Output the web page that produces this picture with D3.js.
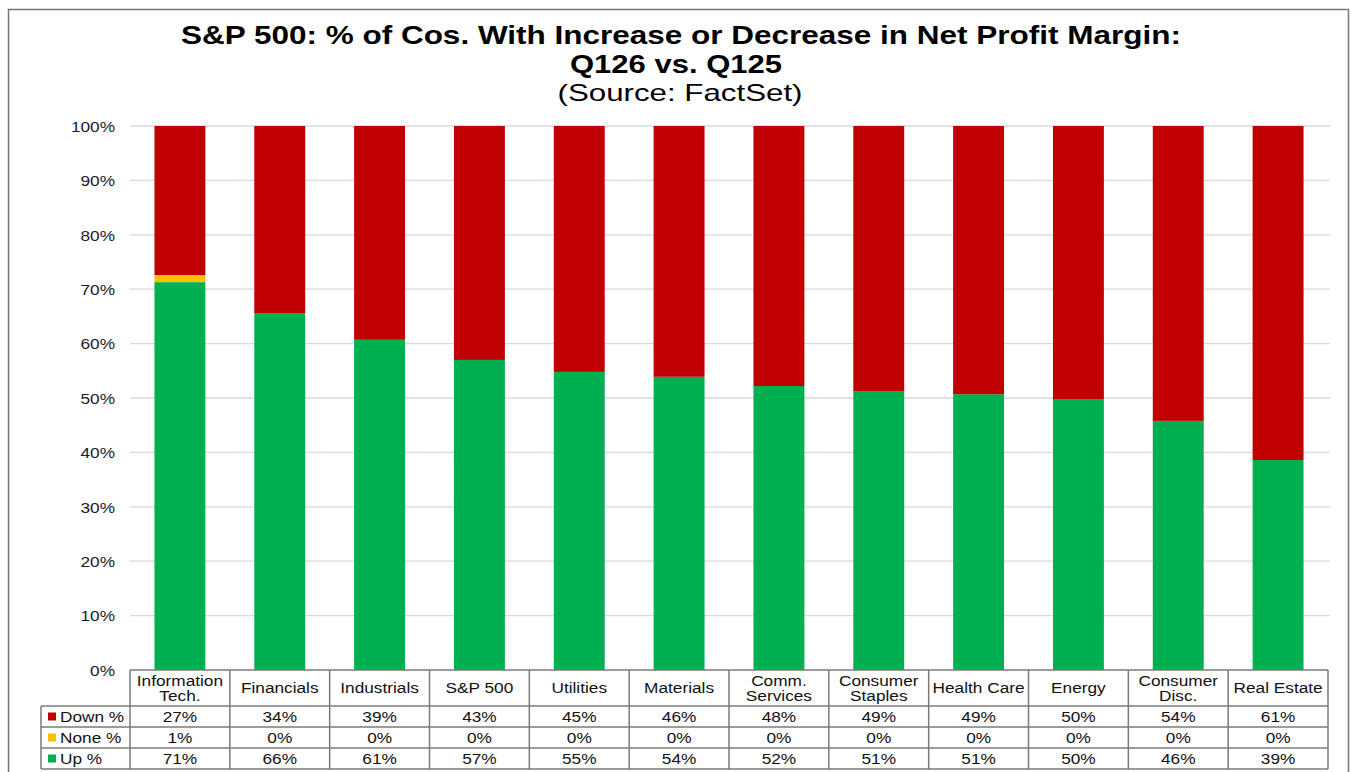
<!DOCTYPE html>
<html><head><meta charset="utf-8">
<script src="https://cdn.jsdelivr.net/npm/d3@7"></script>
<style>body{margin:0;background:#fff;} svg{display:block;font-family:"Liberation Sans",Arial,sans-serif;}</style>
</head><body>
<svg id="c" width="1351" height="772"></svg>
<script>
const categories = [["Information","Tech."],["Financials"],["Industrials"],["S&P 500"],["Utilities"],["Materials"],["Comm.","Services"],["Consumer","Staples"],["Health Care"],["Energy"],["Consumer","Disc."],["Real Estate"]];
const upPct   = [71.3, 65.6, 60.7, 57.0, 54.8, 53.9, 52.2, 51.3, 50.7, 49.8, 45.8, 38.6];
const nonePct = [1.3, 0, 0, 0, 0, 0, 0, 0, 0, 0, 0, 0];
const downPct = upPct.map((u,i)=>100-u-nonePct[i]);
const downLabels = ["27%","34%","39%","43%","45%","46%","48%","49%","49%","50%","54%","61%"];
const noneLabels = ["1%","0%","0%","0%","0%","0%","0%","0%","0%","0%","0%","0%"];
const upLabels   = ["71%","66%","61%","57%","55%","54%","52%","51%","51%","50%","46%","39%"];
const yTicks = [0,10,20,30,40,50,60,70,80,90,100];
const colors = {"Up %":"#00B050","None %":"#FFC000","Down %":"#C00000"};

const SX = 1.15; // horizontal stretch of small text
const svg = d3.select("#c");
svg.append("rect").attr("x",8.5).attr("y",9.5).attr("width",1340).attr("height",770).attr("fill","#fff").attr("stroke","#767676").attr("stroke-width",1.5);

function stext(g, px, py, str, anchor, size, fill){
  return g.append("text").attr("transform",`translate(${px},${py}) scale(${SX},1)`)
    .attr("text-anchor",anchor).attr("font-size",size).attr("fill",fill||"#111").text(str);
}

// titles
const titles = [
  {t:"S&P 500: % of Cos. With Increase or Decrease in Net Profit Margin:", cx:681, y:44, w:1000, b:true, s:25},
  {t:"Q126 vs. Q125", cx:676, y:73, w:212, b:true, s:25},
  {t:"(Source: FactSet)", cx:680, y:101, w:245, b:false, s:24}
];
titles.forEach(d=>{
  svg.append("text").attr("x",d.cx-d.w/2).attr("y",d.y).attr("textLength",d.w).attr("lengthAdjust","spacingAndGlyphs")
    .attr("font-weight",d.b?"bold":"normal").attr("font-size",d.s).attr("fill","#000").text(d.t);
});

const x0 = 130, x1 = 1328;
const x = d3.scaleBand().domain(d3.range(categories.length)).range([x0,x1]).paddingInner(0).paddingOuter(0);
const y = d3.scaleLinear().domain([0,100]).range([670,126]);

// grid
svg.append("g").selectAll("line").data(yTicks.filter(t=>t>0)).join("line")
  .attr("x1",x0).attr("x2",1330).attr("y1",d=>y(d)).attr("y2",d=>y(d))
  .attr("stroke","#d9d9d9").attr("stroke-width",1.3);

// y axis labels
const yAxis = d3.axisLeft(y).tickValues(yTicks).tickFormat(d=>d+"%").tickSize(0).tickPadding(0);
const ya = svg.append("g").attr("transform","translate(115,0)").call(yAxis);
ya.select(".domain").remove();
ya.selectAll(".tick text").attr("font-size",15).attr("fill","#1a1a2e").attr("font-family","Liberation Sans, Arial, sans-serif")
  .attr("dy","0.35em").attr("transform",`scale(${SX},1)`);

// stacked bars
const rows = categories.map((c,i)=>({i, "Up %":upPct[i], "None %":nonePct[i], "Down %":downPct[i]}));
const stack = d3.stack().keys(["Up %","None %","Down %"])(rows);
const bw = x.bandwidth()*0.51;
svg.append("g").selectAll("g").data(stack).join("g").attr("fill",s=>colors[s.key])
  .selectAll("rect").data(s=>s).join("rect")
  .attr("x",d=>x(d.data.i)+(x.bandwidth()-bw)/2).attr("width",bw)
  .attr("y",d=>y(d[1])).attr("height",d=>Math.max(0,y(d[0])-y(d[1])));

// data table
const tbl = svg.append("g");
const hdrTop = 670, hdrBot = 706, rowH = 21;
const lineColor = "#7a7a7a";
const tableRows = [["Down %",downLabels],["None %",noneLabels],["Up %",upLabels]];
categories.forEach((c,i)=>{
  const cx = x(i)+x.bandwidth()/2;
  if(c.length===1){ stext(tbl,cx,693,c[0],"middle",15); }
  else { stext(tbl,cx,686,c[0],"middle",15); stext(tbl,cx,701,c[1],"middle",15); }
});
tableRows.forEach((r,ri)=>{
  const top = hdrBot + ri*rowH;
  tbl.append("rect").attr("x",48).attr("y",top+rowH/2-4).attr("width",8).attr("height",8).attr("fill",colors[r[0]]);
  stext(tbl,60,top+rowH/2+5,r[0],"start",15);
  r[1].forEach((v,i)=>{ stext(tbl,x(i)+x.bandwidth()/2,top+rowH/2+5,v,"middle",15); });
});
const tableBot = hdrBot + 3*rowH;
const L = [];
L.push([x0,hdrTop,x1,hdrTop]);
for(let k=0;k<=3;k++) L.push([41,hdrBot+k*rowH,x1,hdrBot+k*rowH]);
L.push([41,hdrBot,41,tableBot]);
for(let i=0;i<=categories.length;i++){ const xx = i<categories.length? x(i): x1; L.push([xx,hdrTop,xx,tableBot]); }
tbl.append("g").selectAll("line").data(L).join("line")
  .attr("x1",d=>d[0]).attr("y1",d=>d[1]).attr("x2",d=>d[2]).attr("y2",d=>d[3])
  .attr("stroke",lineColor).attr("stroke-width",1.5);
</script>
</body></html>
